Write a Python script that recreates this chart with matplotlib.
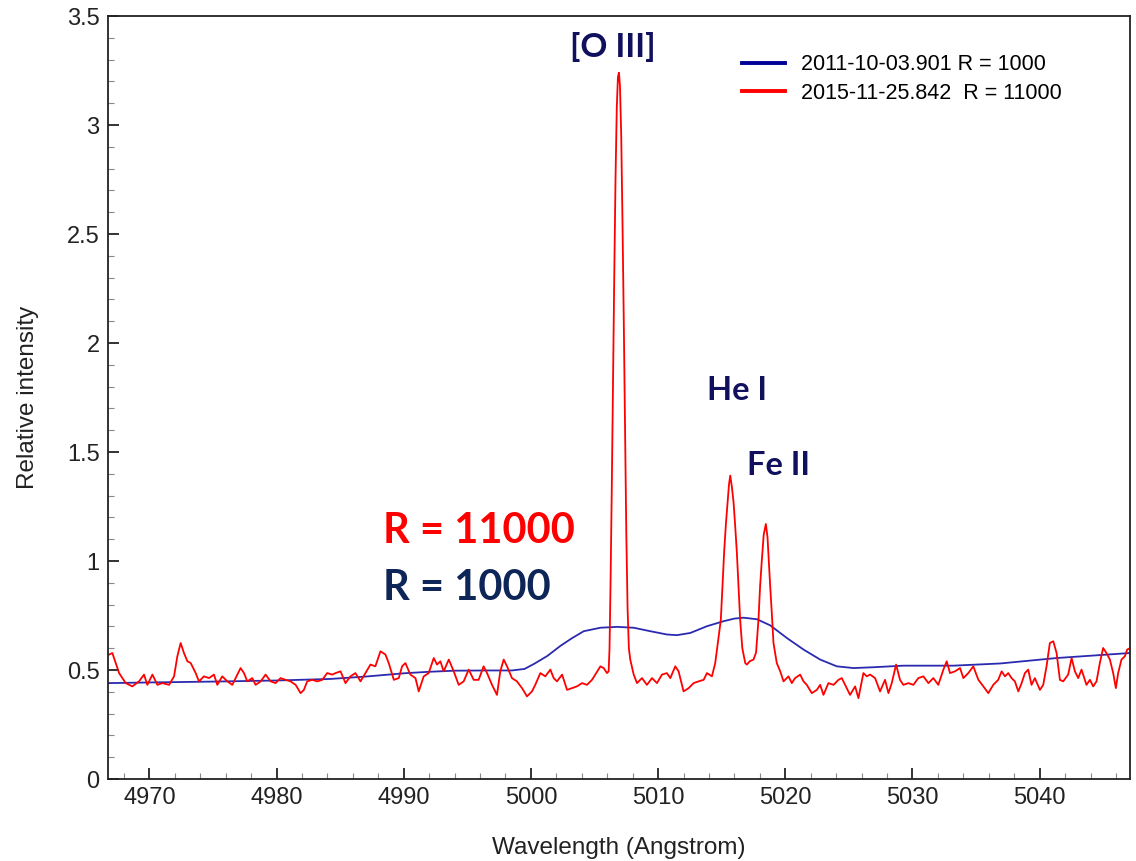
import matplotlib
matplotlib.use('Agg')
import matplotlib.pyplot as plt
from matplotlib.ticker import MultipleLocator, FuncFormatter

# spectra (wavelength in Angstrom, relative intensity)
red_x = [4966.83, 4967.09, 4967.62, 4968.14, 4968.66, 4969.19, 4969.58, 4969.84, 4970.24, 4970.63,
         4971.02, 4971.55, 4971.94, 4972.20, 4972.46, 4972.72, 4972.99, 4973.25, 4973.64, 4973.90,
         4974.29, 4974.69, 4975.08, 4975.34, 4975.73, 4976.13, 4976.52, 4976.78, 4977.17, 4977.44,
         4977.70, 4978.09, 4978.35, 4978.75, 4979.14, 4979.53, 4979.92, 4980.32, 4980.71, 4981.10,
         4981.50, 4981.89, 4982.15, 4982.41, 4982.80, 4983.20, 4983.59, 4983.98, 4984.38, 4984.64,
         4985.03, 4985.42, 4985.81, 4986.20, 4986.60, 4986.99, 4987.38, 4987.77, 4988.17, 4988.56,
         4988.82, 4989.22, 4989.61, 4989.87, 4990.13, 4990.52, 4990.92, 4991.18, 4991.57, 4991.96,
         4992.36, 4992.62, 4992.88, 4993.14, 4993.54, 4993.93, 4994.32, 4994.71, 4995.11, 4995.50,
         4995.89, 4996.28, 4996.55, 4996.94, 4997.33, 4997.59, 4997.86, 4998.12, 4998.51, 4998.90,
         4999.30, 4999.69, 5000.08, 5000.34, 5000.74, 5001.13, 5001.53, 5001.79, 5002.05, 5002.45,
         5002.84, 5003.23, 5003.62, 5004.02, 5004.41, 5004.80, 5005.06, 5005.46, 5005.72, 5005.98,
         5006.11, 5006.18, 5006.26, 5006.35, 5006.45, 5006.55, 5006.65, 5006.75, 5006.84, 5006.92,
         5007.00, 5007.10, 5007.20, 5007.30, 5007.40, 5007.50, 5007.60, 5007.70, 5007.81, 5008.08,
         5008.34, 5008.73, 5009.12, 5009.52, 5009.91, 5010.30, 5010.69, 5010.96, 5011.35, 5011.61,
         5012.00, 5012.40, 5012.79, 5013.18, 5013.58, 5013.84, 5014.23, 5014.49, 5014.75, 5014.93,
         5015.06, 5015.19, 5015.33, 5015.46, 5015.57, 5015.67, 5015.80, 5015.93, 5016.06, 5016.19,
         5016.32, 5016.45, 5016.62, 5016.85, 5016.98, 5017.20, 5017.50, 5017.70, 5017.89, 5018.02,
         5018.15, 5018.30, 5018.47, 5018.60, 5018.72, 5018.81, 5018.94, 5019.07, 5019.33, 5019.60,
         5019.86, 5020.25, 5020.51, 5020.77, 5021.17, 5021.43, 5021.69, 5022.08, 5022.48, 5022.74,
         5023.00, 5023.39, 5023.79, 5024.18, 5024.44, 5024.70, 5025.09, 5025.49, 5025.75, 5026.14,
         5026.40, 5026.67, 5027.06, 5027.45, 5027.84, 5028.11, 5028.37, 5028.71, 5029.02, 5029.28,
         5029.68, 5030.07, 5030.46, 5030.86, 5031.25, 5031.64, 5032.03, 5032.43, 5032.69, 5032.95,
         5033.34, 5033.74, 5034.00, 5034.39, 5034.78, 5035.18, 5035.57, 5035.96, 5036.35, 5036.74,
         5037.01, 5037.27, 5037.53, 5037.79, 5038.05, 5038.32, 5038.58, 5038.84, 5039.10, 5039.36,
         5039.62, 5040.02, 5040.28, 5040.54, 5040.80, 5041.07, 5041.33, 5041.59, 5041.85, 5042.24,
         5042.51, 5042.77, 5043.03, 5043.29, 5043.68, 5043.95, 5044.21, 5044.47, 5044.73, 5044.99,
         5045.25, 5045.52, 5045.78, 5045.99, 5046.17, 5046.43, 5046.70, 5046.88, 5047.10]
red_y = [0.571, 0.578, 0.486, 0.440, 0.425, 0.448, 0.479, 0.432, 0.479, 0.432,
         0.440, 0.432, 0.471, 0.563, 0.624, 0.578, 0.540, 0.532, 0.486, 0.448,
         0.471, 0.463, 0.479, 0.432, 0.471, 0.448, 0.432, 0.463, 0.509, 0.486,
         0.448, 0.463, 0.432, 0.448, 0.479, 0.448, 0.440, 0.463, 0.455, 0.448,
         0.432, 0.394, 0.409, 0.448, 0.455, 0.448, 0.455, 0.486, 0.479, 0.486,
         0.494, 0.440, 0.471, 0.486, 0.448, 0.486, 0.525, 0.517, 0.586, 0.571,
         0.532, 0.455, 0.463, 0.517, 0.532, 0.479, 0.463, 0.402, 0.471, 0.486,
         0.555, 0.525, 0.540, 0.494, 0.548, 0.494, 0.432, 0.448, 0.502, 0.455,
         0.455, 0.517, 0.486, 0.432, 0.386, 0.494, 0.548, 0.517, 0.463, 0.448,
         0.417, 0.379, 0.402, 0.432, 0.486, 0.471, 0.502, 0.463, 0.448, 0.479,
         0.409, 0.417, 0.425, 0.440, 0.432, 0.455, 0.479, 0.517, 0.509, 0.486,
         0.494, 0.600, 0.900, 1.300, 1.800, 2.300, 2.750, 3.080, 3.220, 3.240,
         3.180, 2.950, 2.550, 2.100, 1.600, 1.120, 0.780, 0.600, 0.548, 0.479,
         0.440, 0.463, 0.432, 0.463, 0.440, 0.479, 0.486, 0.463, 0.517, 0.494,
         0.402, 0.417, 0.440, 0.448, 0.455, 0.486, 0.471, 0.532, 0.647, 0.730,
         0.880, 1.040, 1.170, 1.270, 1.350, 1.392, 1.340, 1.270, 1.160, 1.040,
         0.880, 0.730, 0.600, 0.532, 0.525, 0.540, 0.548, 0.580, 0.730, 0.886,
         1.000, 1.120, 1.170, 1.110, 0.980, 0.886, 0.760, 0.624, 0.532, 0.494,
         0.448, 0.471, 0.440, 0.463, 0.479, 0.448, 0.432, 0.394, 0.409, 0.432,
         0.386, 0.440, 0.432, 0.455, 0.463, 0.432, 0.386, 0.425, 0.371, 0.486,
         0.471, 0.479, 0.463, 0.402, 0.455, 0.394, 0.440, 0.525, 0.455, 0.432,
         0.440, 0.432, 0.463, 0.471, 0.440, 0.463, 0.432, 0.502, 0.540, 0.486,
         0.494, 0.509, 0.463, 0.486, 0.517, 0.455, 0.425, 0.394, 0.432, 0.455,
         0.494, 0.471, 0.486, 0.463, 0.448, 0.402, 0.440, 0.486, 0.502, 0.432,
         0.463, 0.409, 0.432, 0.517, 0.624, 0.632, 0.578, 0.455, 0.448, 0.479,
         0.555, 0.494, 0.463, 0.502, 0.432, 0.455, 0.425, 0.448, 0.532, 0.601,
         0.578, 0.548, 0.486, 0.417, 0.486, 0.548, 0.563, 0.594, 0.600]

blue_x = [4966.75, 4970.0, 4975.0, 4980.0, 4984.2, 4987.0, 4990.0, 4992.0, 4994.0, 4996.5,
          4998.5, 4999.5, 5000.3, 5001.3, 5002.3, 5003.2, 5004.15, 5005.46, 5006.77, 5008.08,
          5009.39, 5010.69, 5011.48, 5012.53, 5013.84, 5015.15, 5016.0, 5016.72, 5017.77, 5018.81,
          5020.12, 5021.43, 5022.74, 5024.05, 5025.36, 5027.0, 5029.28, 5033.21, 5036.88, 5041.33,
          5047.10]
blue_y = [0.440, 0.443, 0.447, 0.452, 0.459, 0.470, 0.485, 0.492, 0.497, 0.498,
          0.498, 0.505, 0.530, 0.565, 0.610, 0.645, 0.678, 0.694, 0.698, 0.694,
          0.678, 0.663, 0.660, 0.670, 0.701, 0.724, 0.736, 0.740, 0.733, 0.705,
          0.647, 0.594, 0.548, 0.517, 0.509, 0.513, 0.520, 0.520, 0.530, 0.555,
          0.578]

labels = ['2011-10-03.901 R = 1000', '2015-11-25.842  R = 11000']

navy = '#10105e'
txt = '#222222'

fig = plt.figure(figsize=(11.36, 8.61), dpi=100)
ax = fig.add_axes([0.0951, 0.0952, 0.8996, 0.8862])

ax.plot(blue_x, blue_y, color='#2a2ab0', lw=1.3, label=labels[0])
ax.plot(red_x, red_y, color='#ff0000', lw=1.3, label=labels[1])

ax.set_xlim(4966.75, 5047.1)
ax.set_ylim(0, 3.5)

ax.xaxis.set_major_locator(MultipleLocator(10))
ax.xaxis.set_minor_locator(MultipleLocator(2))
ax.yaxis.set_major_locator(MultipleLocator(0.5))
ax.yaxis.set_minor_locator(MultipleLocator(0.1))
ax.yaxis.set_major_formatter(FuncFormatter(lambda v, p: '%g' % v))

ax.tick_params(which='both', direction='in', top=False, right=False,
               labelsize=17, labelcolor=txt)
ax.tick_params(which='major', length=8, width=1.2, color='#111111', pad=6)
ax.tick_params(which='minor', length=4, width=0.8, color='#888888')
for s in ax.spines.values():
    s.set_linewidth(1.3)
    s.set_color(txt)

for lab in ax.get_xticklabels() + ax.get_yticklabels():
    lab.set_family('Liberation Sans')

ax.set_xlabel('Wavelength (Angstrom)', fontsize=17.5, family='Liberation Sans',
              color=txt, labelpad=20)
ax.set_ylabel('Relative intensity', fontsize=17.5, family='Liberation Sans',
              color=txt, labelpad=20)

leg = ax.legend(loc='upper left', bbox_to_anchor=(0.620, 0.950), frameon=False,
                prop={'family': 'Liberation Sans', 'size': 15.5},
                handlelength=2.0, handletextpad=0.75, labelspacing=0.35,
                borderpad=0, borderaxespad=0)
leg.get_lines()[0].set_color('#000099')
leg.get_lines()[0].set_linewidth(2.8)
leg.get_lines()[1].set_linewidth(2.8)

# line identifications and resolution notes
ax.text(5006.4, 3.36, '[O III]', ha='center', va='center', fontsize=24,
        fontweight='bold', family='Lato', color=navy)
ax.text(5016.2, 1.78, 'He I', ha='center', va='center', fontsize=23.5,
        fontweight='bold', family='Lato', color=navy)
ax.text(5019.5, 1.44, 'Fe II', ha='center', va='center', fontsize=23.5,
        fontweight='bold', family='Lato', color=navy)
ax.text(4988.4, 1.14, 'R = 11000', ha='left', va='center', fontsize=30,
        fontweight='bold', family='Lato', color='#ff0000')
ax.text(4988.4, 0.875, 'R = 1000', ha='left', va='center', fontsize=30,
        fontweight='bold', family='Lato', color='#0e2657')

fig.savefig('out.png', dpi=100)
